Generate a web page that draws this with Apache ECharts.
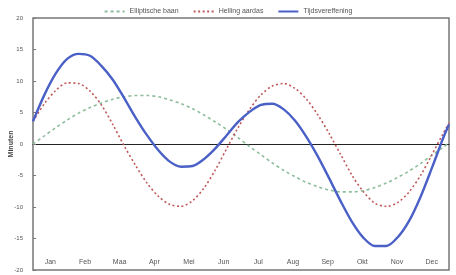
<!DOCTYPE html>
<html>
<head>
<meta charset="utf-8">
<script src="https://cdn.jsdelivr.net/npm/echarts@6/dist/echarts.min.js"></script>
<style>
  html, body { margin: 0; padding: 0; background: #fff; }
  #chartContainer { width: 456px; height: 275px; }
</style>
</head>
<body>
<div id="chartContainer"></div>
<script>
// dag van het jaar (0 = 1 jan)
const days = [0, 10, 20, 30, 40, 50, 60, 70, 80, 90, 100, 110, 120, 130, 140, 150, 160, 170, 180,
    190, 200, 210, 220, 230, 240, 250, 260, 270, 280, 290, 300, 310, 320, 330, 340, 350, 360, 365];
const elliptisch = [0.0, 1.3, 2.6, 3.8, 4.9, 5.8, 6.5, 7.1, 7.5, 7.7, 7.7, 7.5, 7.0, 6.4, 5.6, 4.6, 3.5, 2.3, 1.0,
    -0.4, -1.7, -3.0, -4.2, -5.2, -6.1, -6.8, -7.3, -7.6, -7.6, -7.4, -6.9, -6.2, -5.3, -4.3, -3.1, -1.8, -0.5, 0.2];
const helling = [3.6, 6.4, 8.5, 9.7, 9.6, 8.4, 6.2, 3.1, -0.3, -3.4, -6.2, -8.3, -9.6, -9.9, -9.0, -7.0, -4.1, -0.7, 2.6,
    5.5, 7.8, 9.2, 9.6, 8.8, 7.1, 4.6, 1.6, -1.7, -5.0, -7.6, -9.4, -9.9, -9.3, -7.6, -5.0, -1.7, 1.7, 3.3];
const tijdsvereffening = [3.6, 7.8, 11.2, 13.5, 14.3, 14.0, 12.4, 10.2, 7.3, 4.2, 1.4, -1.0, -2.8, -3.6, -3.5, -2.4, -0.7, 1.4, 3.5,
    5.1, 6.2, 6.4, 5.5, 3.7, 1.1, -2.0, -5.5, -9.1, -12.4, -14.9, -16.2, -16.2, -14.8, -12.2, -8.4, -3.8, 1.0, 3.1];
const months = ['Jan', 'Feb', 'Maa', 'Apr', 'Mei', 'Jun', 'Jul', 'Aug', 'Sep', 'Okt', 'Nov', 'Dec'];

const pairs = vals => days.map((d, i) => [d, vals[i]]);

const chart = echarts.init(document.getElementById('chartContainer'));

const option = {
    animation: false,
    textStyle: { fontFamily: 'Liberation Sans, Arial, sans-serif' },
    legend: {
        top: 3,
        left: 'center',
        itemWidth: 20,
        itemHeight: 8,
        itemGap: 14,
        itemStyle: { opacity: 0 },
        textStyle: { fontSize: 7, color: '#555' },
        data: ['Elliptische baan', 'Helling aardas', 'Tijdsvereffening']
    },
    grid: {
        left: 33, right: 7, top: 18, bottom: 5,
        outerBoundsMode: 'none', containLabel: false,
        show: true, borderColor: '#777', borderWidth: 1.5
    },
    xAxis: [
        {
            type: 'value', min: 0, max: 365,
            axisLine: { onZero: true, lineStyle: { color: '#222', width: 1.2 } },
            axisTick: { show: false }, axisLabel: { show: false }, splitLine: { show: false }
        },
        {
            type: 'category', data: months, position: 'bottom', boundaryGap: true,
            axisLine: { onZero: false, show: false },
            axisTick: { inside: true, length: 3, lineStyle: { color: '#777' } },
            axisLabel: { inside: true, fontSize: 7, color: '#555', margin: 4 },
            splitLine: { show: false }
        }
    ],
    yAxis: {
        type: 'value', min: -20, max: 20, interval: 5,
        name: 'Minuten', nameLocation: 'middle', nameGap: 18, nameMoveOverlap: false,
        nameTextStyle: { fontSize: 7, color: '#444', fontWeight: 'bold' },
        axisLine: { show: false },
        axisTick: { inside: true, length: 3, lineStyle: { color: '#777' } },
        axisLabel: { fontSize: 6, color: '#555', margin: 10 },
        splitLine: { show: false }
    },
    series: [
        {
            name: 'Elliptische baan', type: 'line', smooth: 0.3, symbol: 'none',
            data: pairs(elliptisch),
            itemStyle: { color: '#8dbd9c' },
            lineStyle: { color: '#8dbd9c', width: 1.6, type: [3, 3] }
        },
        {
            name: 'Helling aardas', type: 'line', smooth: 0.3, symbol: 'none',
            data: pairs(helling),
            itemStyle: { color: '#c05a5a' },
            lineStyle: { color: '#c05a5a', width: 1.6, type: [2, 2.5] }
        },
        {
            name: 'Tijdsvereffening', type: 'line', smooth: 0.3, symbol: 'none',
            data: pairs(tijdsvereffening),
            itemStyle: { color: '#4a60c6' },
            lineStyle: { color: '#4a60c6', width: 2.4 }
        }
    ]
};

chart.setOption(option);
window.addEventListener('resize', () => chart.resize());
</script>
</body>
</html>
